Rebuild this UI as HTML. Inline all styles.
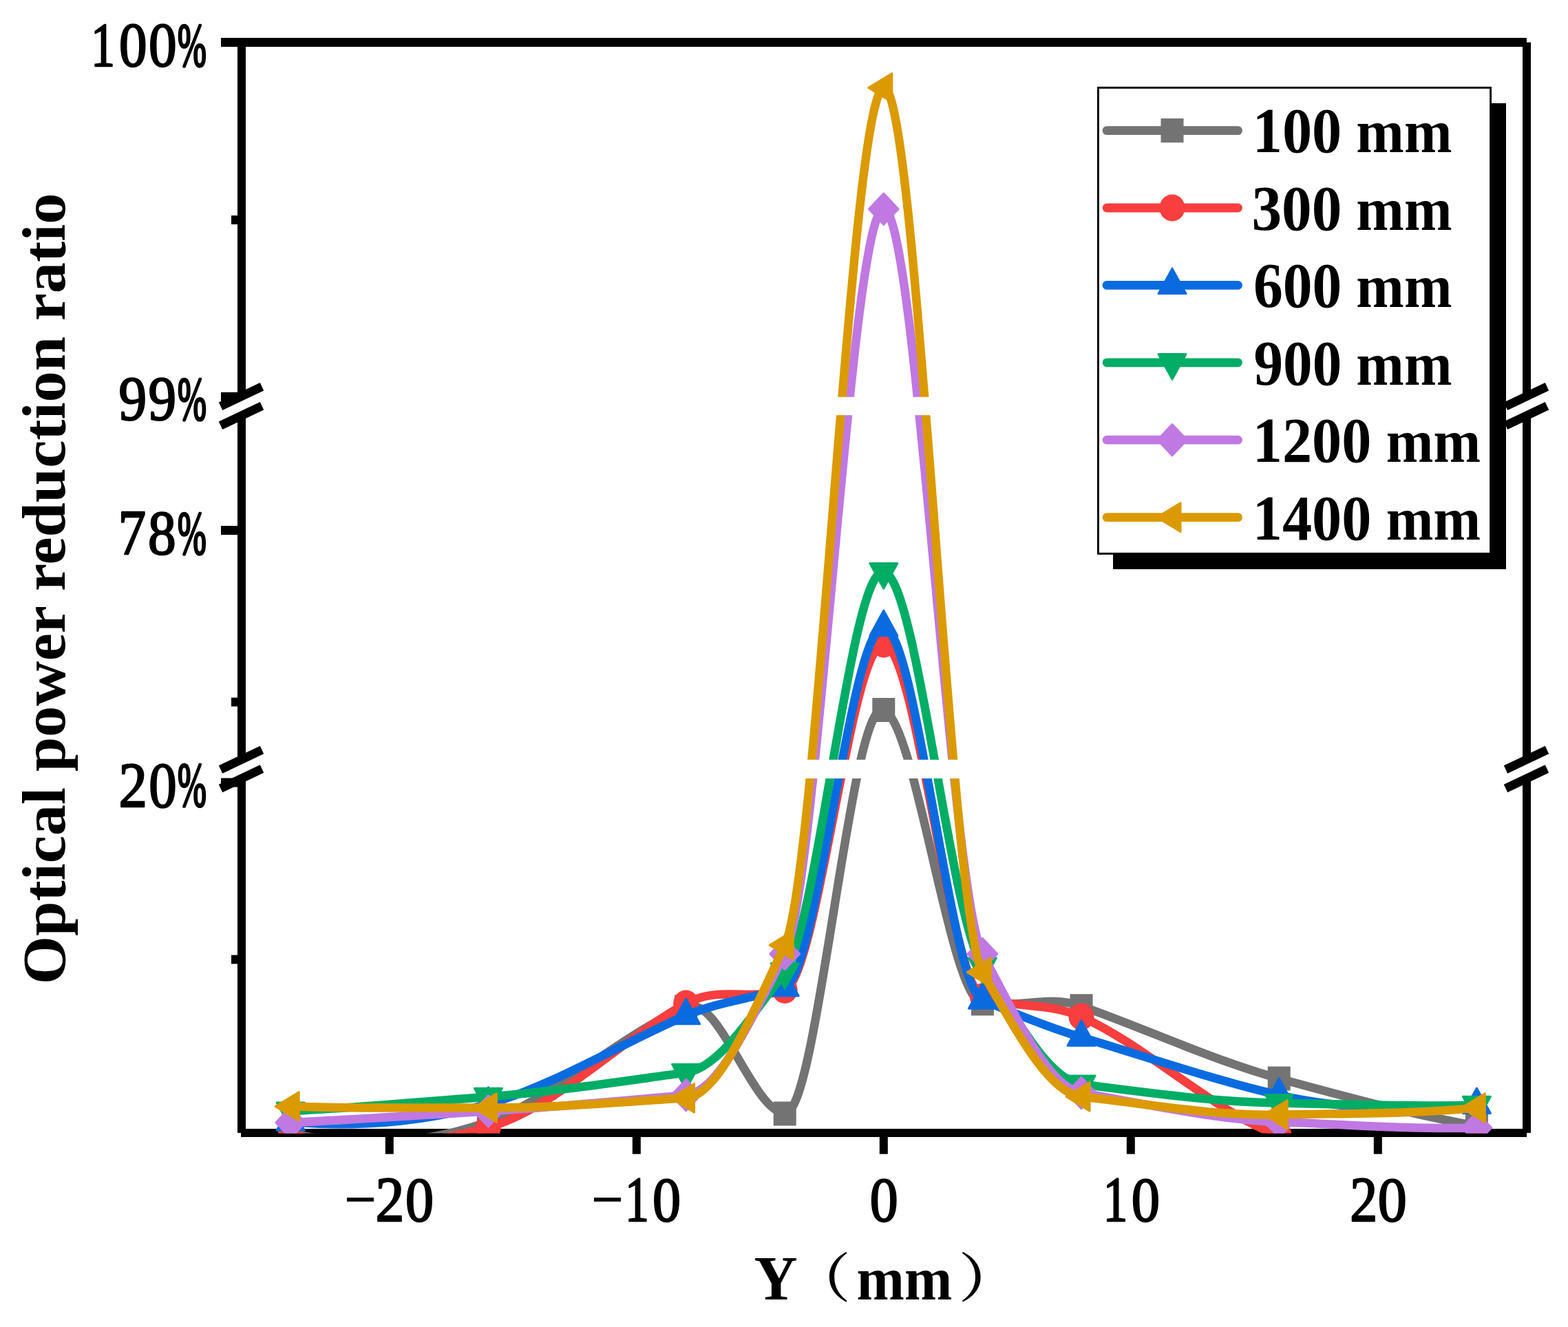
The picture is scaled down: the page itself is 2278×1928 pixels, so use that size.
<!DOCTYPE html>
<html><head><meta charset="utf-8"><style>
html,body{margin:0;padding:0;background:#fff;overflow:hidden;}
svg{display:block;}
</style></head><body>
<svg width="2278" height="1928" viewBox="0 0 2278 1928">
<rect width="2278" height="1928" fill="#fff"/>
<defs><clipPath id="pa"><rect x="351" y="61.5" width="1867" height="1585"/></clipPath></defs>

<g fill="#000"><rect x="321" y="55" width="1897.0" height="13"/><rect x="350" y="1640" width="1868.0" height="12"/><rect x="345" y="61.5" width="12" height="514.3"/><rect x="345" y="603.8" width="12" height="499.8"/><rect x="345" y="1131.1" width="12" height="514.9"/><rect x="2212" y="61.5" width="12" height="514.3"/><rect x="2212" y="603.8" width="12" height="499.8"/><rect x="2212" y="1131.1" width="12" height="514.9"/><rect x="321" y="569.9" width="30" height="13"/><rect x="321" y="764.0" width="30" height="13"/><rect x="321" y="1130.5" width="30" height="13"/><rect x="336" y="313.1" width="15" height="12.8"/><rect x="336" y="1013.6" width="15" height="12.8"/><rect x="336" y="1387.6" width="15" height="12.8"/><rect x="559.8" y="1646" width="12" height="30.7"/><rect x="918.8" y="1646" width="12" height="30.7"/><rect x="1277.8" y="1646" width="12" height="30.7"/><rect x="1636.8" y="1646" width="12" height="30.7"/><rect x="1995.8" y="1646" width="12" height="30.7"/></g>
<g clip-path="url(#pa)">
<path d="M422.2,1647.0C517.9,1666.3 613.7,1664.5 709.4,1630.0C805.1,1595.5 900.9,1504.1 996.6,1463.0C1044.5,1442.5 1092.3,1613.4 1140.2,1618.0C1188.1,1622.6 1235.9,1011.9 1283.8,1031.5C1331.7,1051.1 1379.5,1450.3 1427.4,1458.0C1475.3,1465.7 1523.1,1444.9 1571.0,1461.8C1666.7,1495.5 1762.5,1540.7 1858.2,1567.0C1953.9,1593.3 2049.7,1619.0 2145.4,1636.0" fill="none" stroke="#737373" stroke-width="12.5" stroke-linejoin="round"/>
<rect x="405.7" y="1629.5" width="33" height="35" fill="#737373"/>
<rect x="692.9" y="1612.5" width="33" height="35" fill="#737373"/>
<rect x="980.1" y="1445.5" width="33" height="35" fill="#737373"/>
<rect x="1123.7" y="1600.5" width="33" height="35" fill="#737373"/>
<rect x="1267.3" y="1014.0" width="33" height="35" fill="#737373"/>
<rect x="1410.9" y="1440.5" width="33" height="35" fill="#737373"/>
<rect x="1554.5" y="1444.3" width="33" height="35" fill="#737373"/>
<rect x="1841.7" y="1549.5" width="33" height="35" fill="#737373"/>
<rect x="2128.9" y="1618.5" width="33" height="35" fill="#737373"/>
<path d="M422.2,1648.0C517.9,1673.0 613.7,1664.8 709.4,1638.0C805.1,1611.2 900.9,1511.0 996.6,1458.0C1044.5,1431.5 1092.3,1455.3 1140.2,1438.3C1188.1,1421.3 1235.9,934.4 1283.8,936.0C1331.7,937.6 1379.5,1429.7 1427.4,1448.0C1475.3,1466.3 1523.1,1455.7 1571.0,1477.2C1666.7,1520.3 1762.5,1614.8 1858.2,1650.0C1953.9,1685.2 2049.7,1683.8 2145.4,1660.0" fill="none" stroke="#F83E3E" stroke-width="12.5" stroke-linejoin="round"/>
<ellipse cx="422.2" cy="1648.0" rx="18.5" ry="19.6" fill="#F83E3E"/>
<ellipse cx="709.4" cy="1638.0" rx="18.5" ry="19.6" fill="#F83E3E"/>
<ellipse cx="996.6" cy="1458.0" rx="18.5" ry="19.6" fill="#F83E3E"/>
<ellipse cx="1140.2" cy="1438.3" rx="18.5" ry="19.6" fill="#F83E3E"/>
<ellipse cx="1283.8" cy="936.0" rx="18.5" ry="19.6" fill="#F83E3E"/>
<ellipse cx="1427.4" cy="1448.0" rx="18.5" ry="19.6" fill="#F83E3E"/>
<ellipse cx="1571.0" cy="1477.2" rx="18.5" ry="19.6" fill="#F83E3E"/>
<ellipse cx="1858.2" cy="1650.0" rx="18.5" ry="19.6" fill="#F83E3E"/>
<ellipse cx="2145.4" cy="1660.0" rx="18.5" ry="19.6" fill="#F83E3E"/>
<path d="M422.2,1630.0C517.9,1638.4 613.7,1630.8 709.4,1604.0C805.1,1577.2 900.9,1516.8 996.6,1475.5C1044.5,1454.8 1092.3,1451.8 1140.2,1434.7C1188.1,1417.6 1235.9,909.2 1283.8,911.3C1331.7,913.4 1379.5,1433.2 1427.4,1453.0C1475.3,1472.8 1523.1,1492.7 1571.0,1507.0C1666.7,1535.6 1762.5,1569.0 1858.2,1591.1C1953.9,1613.2 2049.7,1612.2 2145.4,1605.3" fill="none" stroke="#0A6BE1" stroke-width="12.5" stroke-linejoin="round"/>
<polygon points="422.2,1605.7 442.2,1642.2 402.2,1642.2" fill="#0A6BE1" stroke="#0A6BE1" stroke-width="3" stroke-linejoin="round"/>
<polygon points="709.4,1579.7 729.4,1616.2 689.4,1616.2" fill="#0A6BE1" stroke="#0A6BE1" stroke-width="3" stroke-linejoin="round"/>
<polygon points="996.6,1451.2 1016.6,1487.7 976.6,1487.7" fill="#0A6BE1" stroke="#0A6BE1" stroke-width="3" stroke-linejoin="round"/>
<polygon points="1140.2,1410.4 1160.2,1446.9 1120.2,1446.9" fill="#0A6BE1" stroke="#0A6BE1" stroke-width="3" stroke-linejoin="round"/>
<polygon points="1283.8,887.0 1303.8,923.5 1263.8,923.5" fill="#0A6BE1" stroke="#0A6BE1" stroke-width="3" stroke-linejoin="round"/>
<polygon points="1427.4,1428.7 1447.4,1465.2 1407.4,1465.2" fill="#0A6BE1" stroke="#0A6BE1" stroke-width="3" stroke-linejoin="round"/>
<polygon points="1571.0,1482.7 1591.0,1519.2 1551.0,1519.2" fill="#0A6BE1" stroke="#0A6BE1" stroke-width="3" stroke-linejoin="round"/>
<polygon points="1858.2,1566.8 1878.2,1603.3 1838.2,1603.3" fill="#0A6BE1" stroke="#0A6BE1" stroke-width="3" stroke-linejoin="round"/>
<polygon points="2145.4,1581.0 2165.4,1617.5 2125.4,1617.5" fill="#0A6BE1" stroke="#0A6BE1" stroke-width="3" stroke-linejoin="round"/>
<path d="M422.2,1614.2C517.9,1609.6 613.7,1600.6 709.4,1593.4C805.1,1586.2 900.9,1571.4 996.6,1558.4C1044.5,1551.9 1092.3,1475.4 1140.2,1412.0C1188.1,1348.6 1235.9,824.5 1283.8,830.7C1331.7,836.9 1379.5,1330.8 1427.4,1404.0C1475.3,1477.2 1523.1,1569.2 1571.0,1575.3C1666.7,1587.5 1762.5,1601.0 1858.2,1602.6C1953.9,1604.2 2049.7,1608.6 2145.4,1605.5" fill="none" stroke="#00AD65" stroke-width="12.5" stroke-linejoin="round"/>
<polygon points="402.2,1602.0 442.2,1602.0 422.2,1638.5" fill="#00AD65" stroke="#00AD65" stroke-width="3" stroke-linejoin="round"/>
<polygon points="689.4,1581.2 729.4,1581.2 709.4,1617.7" fill="#00AD65" stroke="#00AD65" stroke-width="3" stroke-linejoin="round"/>
<polygon points="976.6,1546.2 1016.6,1546.2 996.6,1582.7" fill="#00AD65" stroke="#00AD65" stroke-width="3" stroke-linejoin="round"/>
<polygon points="1120.2,1399.8 1160.2,1399.8 1140.2,1436.3" fill="#00AD65" stroke="#00AD65" stroke-width="3" stroke-linejoin="round"/>
<polygon points="1263.8,818.5 1303.8,818.5 1283.8,855.0" fill="#00AD65" stroke="#00AD65" stroke-width="3" stroke-linejoin="round"/>
<polygon points="1407.4,1391.8 1447.4,1391.8 1427.4,1428.3" fill="#00AD65" stroke="#00AD65" stroke-width="3" stroke-linejoin="round"/>
<polygon points="1551.0,1563.1 1591.0,1563.1 1571.0,1599.6" fill="#00AD65" stroke="#00AD65" stroke-width="3" stroke-linejoin="round"/>
<polygon points="1838.2,1590.4 1878.2,1590.4 1858.2,1626.9" fill="#00AD65" stroke="#00AD65" stroke-width="3" stroke-linejoin="round"/>
<polygon points="2125.4,1593.3 2165.4,1593.3 2145.4,1629.8" fill="#00AD65" stroke="#00AD65" stroke-width="3" stroke-linejoin="round"/>
<path d="M422.2,1631.0C517.9,1626.6 613.7,1620.0 709.4,1614.4C805.1,1608.8 900.9,1599.4 996.6,1591.2C1044.5,1587.1 1092.3,1478.3 1140.2,1385.9C1188.1,1293.5 1235.9,304.4 1283.8,303.7C1331.7,303.0 1379.5,1296.0 1427.4,1386.0C1475.3,1476.0 1523.1,1579.9 1571.0,1588.0C1666.7,1604.3 1762.5,1626.2 1858.2,1630.0C1953.9,1633.8 2049.7,1641.2 2145.4,1638.5" fill="none" stroke="#C078E2" stroke-width="12.5" stroke-linejoin="round"/>
<polygon points="422.2,1608.4 443.5,1631.0 422.2,1653.6 400.9,1631.0" fill="#C078E2" stroke="#C078E2" stroke-width="3" stroke-linejoin="round"/>
<polygon points="709.4,1591.8 730.7,1614.4 709.4,1637.0 688.1,1614.4" fill="#C078E2" stroke="#C078E2" stroke-width="3" stroke-linejoin="round"/>
<polygon points="996.6,1568.6 1017.9,1591.2 996.6,1613.8 975.3,1591.2" fill="#C078E2" stroke="#C078E2" stroke-width="3" stroke-linejoin="round"/>
<polygon points="1140.2,1363.3 1161.5,1385.9 1140.2,1408.5 1118.9,1385.9" fill="#C078E2" stroke="#C078E2" stroke-width="3" stroke-linejoin="round"/>
<polygon points="1283.8,281.1 1305.1,303.7 1283.8,326.3 1262.5,303.7" fill="#C078E2" stroke="#C078E2" stroke-width="3" stroke-linejoin="round"/>
<polygon points="1427.4,1363.4 1448.7,1386.0 1427.4,1408.6 1406.1,1386.0" fill="#C078E2" stroke="#C078E2" stroke-width="3" stroke-linejoin="round"/>
<polygon points="1571.0,1565.4 1592.3,1588.0 1571.0,1610.6 1549.7,1588.0" fill="#C078E2" stroke="#C078E2" stroke-width="3" stroke-linejoin="round"/>
<polygon points="1858.2,1607.4 1879.5,1630.0 1858.2,1652.6 1836.9,1630.0" fill="#C078E2" stroke="#C078E2" stroke-width="3" stroke-linejoin="round"/>
<polygon points="2145.4,1615.9 2166.7,1638.5 2145.4,1661.1 2124.1,1638.5" fill="#C078E2" stroke="#C078E2" stroke-width="3" stroke-linejoin="round"/>
<path d="M422.2,1607.5C517.9,1610.9 613.7,1609.0 709.4,1609.5C805.1,1610.0 900.9,1601.2 996.6,1595.3C1044.5,1592.4 1092.3,1473.9 1140.2,1373.2C1188.1,1272.5 1235.9,136.9 1283.8,127.5C1331.7,118.1 1379.5,1329.5 1427.4,1412.6C1475.3,1495.7 1523.1,1588.0 1571.0,1593.3C1666.7,1603.8 1762.5,1621.6 1858.2,1619.5C1953.9,1617.4 2049.7,1618.9 2145.4,1609.6" fill="none" stroke="#DB9A00" stroke-width="12.5" stroke-linejoin="round"/>
<polygon points="400.1,1607.5 434.2,1586.7 434.2,1628.3" fill="#DB9A00" stroke="#DB9A00" stroke-width="3" stroke-linejoin="round"/>
<polygon points="687.3,1609.5 721.4,1588.7 721.4,1630.3" fill="#DB9A00" stroke="#DB9A00" stroke-width="3" stroke-linejoin="round"/>
<polygon points="974.5,1595.3 1008.6,1574.5 1008.6,1616.1" fill="#DB9A00" stroke="#DB9A00" stroke-width="3" stroke-linejoin="round"/>
<polygon points="1118.1,1373.2 1152.2,1352.4 1152.2,1394.0" fill="#DB9A00" stroke="#DB9A00" stroke-width="3" stroke-linejoin="round"/>
<polygon points="1261.7,127.5 1295.8,106.7 1295.8,148.3" fill="#DB9A00" stroke="#DB9A00" stroke-width="3" stroke-linejoin="round"/>
<polygon points="1405.3,1412.6 1439.4,1391.8 1439.4,1433.4" fill="#DB9A00" stroke="#DB9A00" stroke-width="3" stroke-linejoin="round"/>
<polygon points="1548.9,1593.3 1583.0,1572.5 1583.0,1614.1" fill="#DB9A00" stroke="#DB9A00" stroke-width="3" stroke-linejoin="round"/>
<polygon points="1836.1,1619.5 1870.2,1598.7 1870.2,1640.3" fill="#DB9A00" stroke="#DB9A00" stroke-width="3" stroke-linejoin="round"/>
<polygon points="2123.3,1609.6 2157.4,1588.8 2157.4,1630.4" fill="#DB9A00" stroke="#DB9A00" stroke-width="3" stroke-linejoin="round"/>
</g>
<rect x="357" y="576.8" width="1855" height="26.4" fill="#fff"/>
<rect x="357" y="1103.8" width="1855" height="27.2" fill="#fff"/>
<g><line x1="320.5" y1="590.2" x2="380.5" y2="561.8" stroke="#000" stroke-width="12.7"/><line x1="320.5" y1="618.2" x2="380.5" y2="589.8" stroke="#000" stroke-width="12.7"/><line x1="320.5" y1="1118.0" x2="380.5" y2="1089.6" stroke="#000" stroke-width="12.7"/><line x1="320.5" y1="1145.5" x2="380.5" y2="1117.1" stroke="#000" stroke-width="12.7"/><line x1="2187.5" y1="590.2" x2="2247.5" y2="561.8" stroke="#000" stroke-width="12.7"/><line x1="2187.5" y1="618.2" x2="2247.5" y2="589.8" stroke="#000" stroke-width="12.7"/><line x1="2187.5" y1="1118.0" x2="2247.5" y2="1089.6" stroke="#000" stroke-width="12.7"/><line x1="2187.5" y1="1145.5" x2="2247.5" y2="1117.1" stroke="#000" stroke-width="12.7"/></g>
<rect x="1617" y="150" width="571" height="677" fill="#000"/>
<rect x="1595.45" y="127.4" width="570.1" height="677" fill="#fff" stroke="#000" stroke-width="2.9"/>
<line x1="1608" y1="189.6" x2="1798.5" y2="189.6" stroke="#737373" stroke-width="12.8" stroke-linecap="round"/>
<rect x="1686.5" y="172.1" width="33" height="35" fill="#737373"/>
<text transform="translate(1819.79,221.08) scale(0.9368,1)" font-family="Liberation Serif, serif" font-size="92.15" font-weight="bold">100</text>
<text transform="translate(1970.35,221.10) scale(0.9295,1)" font-family="Liberation Serif, serif" font-size="89.81" font-weight="bold">mm</text>
<line x1="1608" y1="302.0" x2="1798.5" y2="302.0" stroke="#F83E3E" stroke-width="12.8" stroke-linecap="round"/>
<ellipse cx="1703.0" cy="302.0" rx="18.5" ry="19.6" fill="#F83E3E"/>
<text transform="translate(1818.38,333.63) scale(0.9473,1)" font-family="Liberation Serif, serif" font-size="92.15" font-weight="bold">300</text>
<text transform="translate(1970.35,333.65) scale(0.9295,1)" font-family="Liberation Serif, serif" font-size="89.81" font-weight="bold">mm</text>
<line x1="1608" y1="414.4" x2="1798.5" y2="414.4" stroke="#0A6BE1" stroke-width="12.8" stroke-linecap="round"/>
<polygon points="1703.0,390.1 1723.0,426.6 1683.0,426.6" fill="#0A6BE1" stroke="#0A6BE1" stroke-width="3" stroke-linejoin="round"/>
<text transform="translate(1820.89,446.18) scale(0.9287,1)" font-family="Liberation Serif, serif" font-size="92.15" font-weight="bold">600</text>
<text transform="translate(1970.35,446.20) scale(0.9295,1)" font-family="Liberation Serif, serif" font-size="89.81" font-weight="bold">mm</text>
<line x1="1608" y1="526.8" x2="1798.5" y2="526.8" stroke="#00AD65" stroke-width="12.8" stroke-linecap="round"/>
<polygon points="1683.0,514.6 1723.0,514.6 1703.0,551.1" fill="#00AD65" stroke="#00AD65" stroke-width="3" stroke-linejoin="round"/>
<text transform="translate(1821.50,558.73) scale(0.9241,1)" font-family="Liberation Serif, serif" font-size="92.15" font-weight="bold">900</text>
<text transform="translate(1970.35,558.75) scale(0.9295,1)" font-family="Liberation Serif, serif" font-size="89.81" font-weight="bold">mm</text>
<line x1="1608" y1="639.2" x2="1798.5" y2="639.2" stroke="#C078E2" stroke-width="12.8" stroke-linecap="round"/>
<polygon points="1703.0,616.6 1724.3,639.2 1703.0,661.8 1681.7,639.2" fill="#C078E2" stroke="#C078E2" stroke-width="3" stroke-linejoin="round"/>
<text transform="translate(1819.80,671.28) scale(0.9359,1)" font-family="Liberation Serif, serif" font-size="92.15" font-weight="bold">1200</text>
<text transform="translate(2013.77,671.30) scale(0.9178,1)" font-family="Liberation Serif, serif" font-size="89.81" font-weight="bold">mm</text>
<line x1="1608" y1="751.6" x2="1798.5" y2="751.6" stroke="#DB9A00" stroke-width="12.8" stroke-linecap="round"/>
<polygon points="1680.9,751.6 1715.0,730.8 1715.0,772.4" fill="#DB9A00" stroke="#DB9A00" stroke-width="3" stroke-linejoin="round"/>
<text transform="translate(1819.80,783.83) scale(0.9359,1)" font-family="Liberation Serif, serif" font-size="92.15" font-weight="bold">1400</text>
<text transform="translate(2013.77,783.85) scale(0.9178,1)" font-family="Liberation Serif, serif" font-size="89.81" font-weight="bold">mm</text>
<text transform="translate(132.02,95.60) scale(0.7655,1)" font-family="Liberation Serif, serif" font-size="91.67" stroke="#000" stroke-width="2.4" stroke-linejoin="round">1</text>
<text transform="translate(173.02,95.59) scale(0.8919,1)" font-family="Liberation Serif, serif" font-size="90.96" stroke="#000" stroke-width="2.4" stroke-linejoin="round">0</text>
<text transform="translate(216.01,95.59) scale(0.8945,1)" font-family="Liberation Serif, serif" font-size="90.96" stroke="#000" stroke-width="2.4" stroke-linejoin="round">0</text>
<text transform="translate(258.04,94.79) scale(0.5659,1)" font-family="Liberation Serif, serif" font-size="88.94" stroke="#000" stroke-width="3.5" stroke-linejoin="round">%</text>
<text transform="translate(172.50,609.78) scale(0.8865,1)" font-family="Liberation Serif, serif" font-size="91.67" stroke="#000" stroke-width="2.4" stroke-linejoin="round">9</text>
<text transform="translate(215.50,609.78) scale(0.8865,1)" font-family="Liberation Serif, serif" font-size="91.67" stroke="#000" stroke-width="2.4" stroke-linejoin="round">9</text>
<text transform="translate(258.03,608.99) scale(0.5655,1)" font-family="Liberation Serif, serif" font-size="89.23" stroke="#000" stroke-width="3.5" stroke-linejoin="round">%</text>
<text transform="translate(171.79,804.70) scale(0.8686,1)" font-family="Liberation Serif, serif" font-size="92.67" stroke="#000" stroke-width="2.4" stroke-linejoin="round">7</text>
<text transform="translate(215.01,804.69) scale(0.8916,1)" font-family="Liberation Serif, serif" font-size="91.26" stroke="#000" stroke-width="2.4" stroke-linejoin="round">8</text>
<text transform="translate(258.04,803.89) scale(0.5625,1)" font-family="Liberation Serif, serif" font-size="89.23" stroke="#000" stroke-width="3.5" stroke-linejoin="round">%</text>
<text transform="translate(172.56,1171.70) scale(0.8883,1)" font-family="Liberation Serif, serif" font-size="93.20" stroke="#000" stroke-width="2.4" stroke-linejoin="round">2</text>
<text transform="translate(216.13,1171.67) scale(0.8723,1)" font-family="Liberation Serif, serif" font-size="92.74" stroke="#000" stroke-width="2.4" stroke-linejoin="round">0</text>
<text transform="translate(258.04,1170.87) scale(0.5548,1)" font-family="Liberation Serif, serif" font-size="90.71" stroke="#000" stroke-width="3.5" stroke-linejoin="round">%</text>
<text transform="translate(499.81,1782.13) scale(0.7108,1)" font-family="Liberation Serif, serif" font-size="118.00">−</text>
<text transform="translate(545.41,1774.20) scale(0.9078,1)" font-family="Liberation Serif, serif" font-size="92.30" stroke="#000" stroke-width="2.4" stroke-linejoin="round">2</text>
<text transform="translate(588.88,1774.08) scale(0.8950,1)" font-family="Liberation Serif, serif" font-size="91.70" stroke="#000" stroke-width="2.4" stroke-linejoin="round">0</text>
<text transform="translate(858.81,1782.13) scale(0.7108,1)" font-family="Liberation Serif, serif" font-size="118.00">−</text>
<text transform="translate(908.05,1774.20) scale(0.7549,1)" font-family="Liberation Serif, serif" font-size="92.58" stroke="#000" stroke-width="2.4" stroke-linejoin="round">1</text>
<text transform="translate(947.98,1774.08) scale(0.8950,1)" font-family="Liberation Serif, serif" font-size="91.70" stroke="#000" stroke-width="2.4" stroke-linejoin="round">0</text>
<text transform="translate(1263.69,1774.08) scale(0.8924,1)" font-family="Liberation Serif, serif" font-size="91.70" stroke="#000" stroke-width="2.4" stroke-linejoin="round">0</text>
<text transform="translate(1602.47,1774.20) scale(0.7764,1)" font-family="Liberation Serif, serif" font-size="92.58" stroke="#000" stroke-width="2.4" stroke-linejoin="round">1</text>
<text transform="translate(1643.66,1774.08) scale(0.9002,1)" font-family="Liberation Serif, serif" font-size="91.70" stroke="#000" stroke-width="2.4" stroke-linejoin="round">0</text>
<text transform="translate(1961.18,1774.20) scale(0.8673,1)" font-family="Liberation Serif, serif" font-size="92.30" stroke="#000" stroke-width="2.4" stroke-linejoin="round">2</text>
<text transform="translate(2001.81,1774.08) scale(0.9156,1)" font-family="Liberation Serif, serif" font-size="91.70" stroke="#000" stroke-width="2.4" stroke-linejoin="round">0</text>
<text transform="translate(1095.43,1887.90) scale(0.9562,1)" font-family="Liberation Serif, serif" font-size="91.45" font-weight="bold">Y</text>
<text transform="translate(1244.55,1887.90) scale(0.9318,1)" font-family="Liberation Serif, serif" font-size="89.38" font-weight="bold">mm</text>
<text transform="translate(1148.31,1884.71) scale(1.1418,1)" font-family="Liberation Serif, Noto Serif CJK SC, serif" font-weight="600" font-size="76.86">（</text>
<text transform="translate(1392.31,1884.71) scale(1.1905,1)" font-family="Liberation Serif, Noto Serif CJK SC, serif" font-weight="600" font-size="76.86">）</text>
<text transform="translate(94.11,1430.23) rotate(-90) scale(1.0256,1)" font-family="Liberation Serif, serif" font-size="88.20" font-weight="bold">Optical power reduction ratio</text>
</svg></body></html>
